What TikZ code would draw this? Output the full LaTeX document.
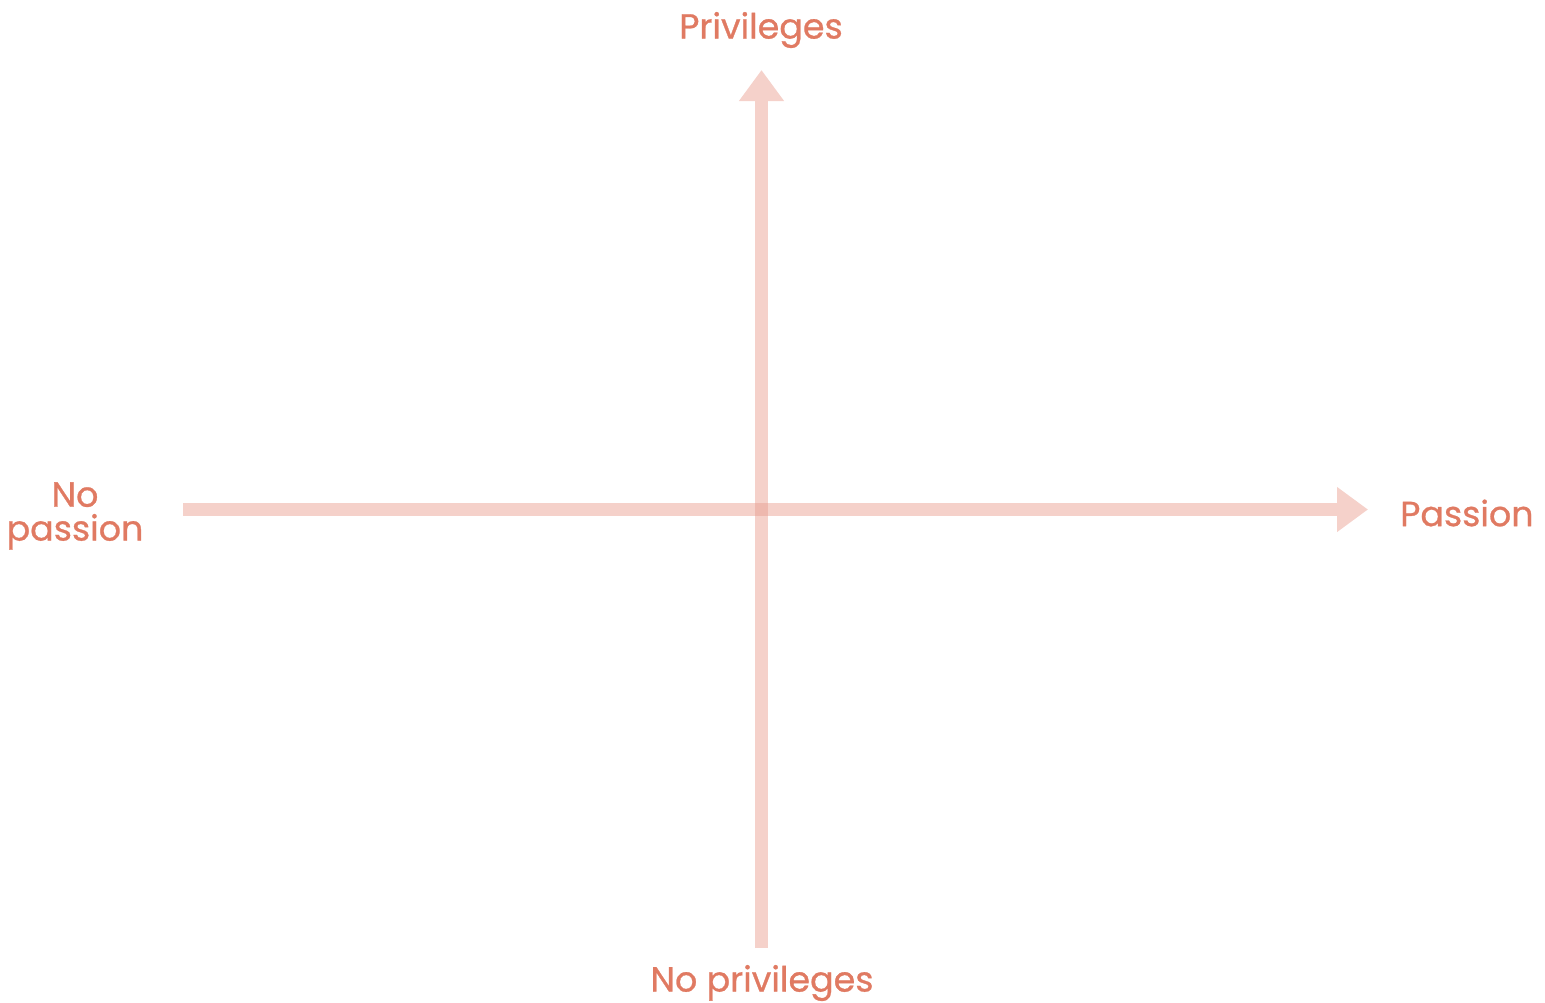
\documentclass[tikz,border=0pt]{standalone}
\usepackage{fontspec}
\setmainfont{Poppins}[FakeBold=0.8]
\usetikzlibrary{arrows.meta}
\definecolor{axis}{HTML}{F5D1CA}
\definecolor{axisdark}{HTML}{EEB8AE}
\definecolor{lab}{HTML}{E07A62}
\tikzset{
  axisline/.style={draw=axis, line width=12.5bp, -{Triangle[length=31bp,width=43bp]}},
  lbl/.style={text=lab, font=\fontsize{35}{34}\selectfont, inner sep=0pt, align=center}
}
\begin{document}
\begin{tikzpicture}[x=1bp,y=-1bp]
\useasboundingbox (0,0) rectangle (1545,1002);
\coordinate (vb) at (761.5,948);
\coordinate (vt) at (761.5,70);
\coordinate (hl) at (183,509.5);
\coordinate (hr) at (1368,509.5);
\draw[axisline] (vb) -- (vt);
\draw[axisline] (hl) -- (hr);
\fill[axisdark] (755.25,503.25) rectangle (767.75,515.75);
\node[lbl] (top) at (761,30) {Privileges};
\node[lbl] (bot) at (762,983) {No privileges};
\node[lbl, anchor=west] (right) at (1400,513) {Passion};
\node[lbl] (left) at (75,516) {No\\passion};
\end{tikzpicture}
\end{document}
